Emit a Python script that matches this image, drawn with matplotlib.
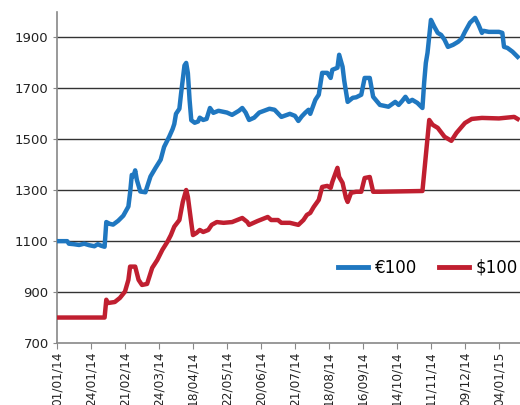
import matplotlib
matplotlib.use("Agg")
import matplotlib.pyplot as plt

# x positions are trading-day indices; tick labels every 20 trading days
tick_labels = ["01/01/14", "24/01/14", "21/02/14", "24/03/14", "18/04/14", "22/05/14",
               "20/06/14", "21/07/14", "18/08/14", "16/09/14", "14/10/14", "11/11/14",
               "09/12/14", "04/01/15"]
tick_step = 20

eur_idx = [0, 6, 7, 10, 13, 16, 19, 22, 24, 26, 28, 29, 31, 33, 36, 39, 42, 43, 44, 45, 46, 47,
           49, 52, 55, 58, 61, 63, 66, 68, 69, 70, 72, 73, 74, 75, 76, 77, 78, 79, 81, 83, 84, 86,
           88, 90, 92, 95, 100, 103, 107, 109, 111, 113, 116, 119, 123, 125, 128, 132, 137, 140,
           142, 144, 146, 148, 149, 152, 154, 156, 159, 161, 162, 165, 166, 168, 169, 171, 174,
           176, 179, 181, 184, 186, 190, 195, 199, 201, 203, 205, 207, 209, 212, 215, 216, 217,
           218, 220, 222, 224, 226, 228, 230, 233, 236, 238, 240, 243, 246, 248, 250, 251, 254,
           260, 262, 263, 265, 268, 271]
eur_val = [1100, 1100, 1090, 1088, 1085, 1090, 1084, 1080, 1088, 1082, 1078, 1175, 1168, 1165,
           1180, 1200, 1236, 1290, 1360, 1355, 1378, 1340, 1295, 1292, 1354, 1388, 1420, 1470,
           1510, 1540, 1560, 1600, 1620, 1680, 1735, 1790, 1800, 1760, 1655, 1575, 1565, 1570,
           1585, 1576, 1580, 1623, 1604, 1612, 1605, 1596, 1612, 1623, 1605, 1576, 1585, 1605,
           1615, 1620, 1616, 1588, 1600, 1592, 1572, 1590, 1604, 1616, 1600, 1655, 1675, 1761,
           1761, 1741, 1773, 1781, 1832, 1785, 1730, 1647, 1663, 1665, 1675, 1741, 1741, 1667,
           1635, 1628, 1647, 1635, 1650, 1667, 1647, 1655, 1643, 1623, 1722, 1800, 1840, 1969,
           1942, 1918, 1910, 1891, 1863, 1871, 1883, 1895, 1922, 1958, 1977, 1950, 1918, 1926,
           1922, 1922, 1918, 1863, 1859, 1844, 1824]

usd_idx = [0, 28, 29, 30, 34, 37, 40, 42, 43, 46, 48, 50, 53, 56, 59, 62, 65, 67, 69, 72, 74, 76,
           77, 79, 80, 82, 84, 86, 89, 91, 94, 98, 103, 106, 109, 112, 113, 118, 124, 126, 130,
           132, 137, 142, 145, 147, 149, 151, 154, 156, 159, 161, 162, 165, 166, 168, 170, 171,
           173, 176, 179, 181, 184, 186, 190, 215, 219, 221, 224, 228, 232, 235, 240, 244, 250,
           260, 269, 271]
usd_val = [800, 800, 870, 857, 861, 877, 902, 948, 1000, 1000, 948, 928, 932, 995, 1026, 1066,
           1098, 1124, 1157, 1183, 1254, 1301, 1274, 1172, 1124, 1132, 1144, 1136, 1144, 1164,
           1175, 1172, 1175, 1183, 1191, 1175, 1164, 1179, 1195, 1183, 1183, 1172, 1172, 1164,
           1183, 1203, 1211, 1234, 1262, 1313, 1317, 1309, 1333, 1388, 1352, 1329, 1270, 1254,
           1290, 1294, 1294, 1348, 1352, 1294, 1294, 1297, 1576, 1557, 1545, 1510, 1494, 1525,
           1564, 1580, 1584, 1582, 1588, 1580]

y_ticks = [700, 900, 1100, 1300, 1500, 1700, 1900]

fig = plt.figure(figsize=(5.2, 4.05), dpi=100)
ax = fig.add_axes([57 / 520, 1 - 343 / 405, 1 - 57 / 520, (343 - 12) / 405])

blue = "#1f77c0"
red = "#c01f30"
ax.plot(eur_idx, eur_val, color=blue, lw=3.2, solid_joinstyle="round", label="€100", zorder=3)
ax.plot(usd_idx, usd_val, color=red, lw=3.2, solid_joinstyle="round", label="$100", zorder=3)

ax.set_xlim(0, 272.4)
ax.set_ylim(700, 2000)
ax.set_yticks(y_ticks)
ax.set_yticklabels([str(v) for v in y_ticks], fontsize=9.5, color="#222222")
ax.set_xticks([i * tick_step for i in range(len(tick_labels))])
ax.set_xticklabels(tick_labels, rotation=90, fontsize=8.7, color="#222222")

for v in y_ticks[1:]:
    ax.axhline(v, color="#333333", lw=1.0, zorder=1)

for s in ["top", "right"]:
    ax.spines[s].set_visible(False)
for s in ["left", "bottom"]:
    ax.spines[s].set_color("#888888")
    ax.spines[s].set_linewidth(1.2)
ax.tick_params(axis="y", length=3, color="#888888", pad=3)
ax.tick_params(axis="x", length=4, color="#888888", pad=2)

leg = ax.legend(loc="center right", bbox_to_anchor=(1.0, (343 - 268) * 200 / 50.9 / 1300),
                ncol=2, frameon=False, fontsize=12, handlelength=1.8, handletextpad=0.4,
                columnspacing=1.3, borderaxespad=0.0, borderpad=0.15)
for line in leg.get_lines():
    line.set_linewidth(3.5)

fig.savefig("out.png", dpi=100)
